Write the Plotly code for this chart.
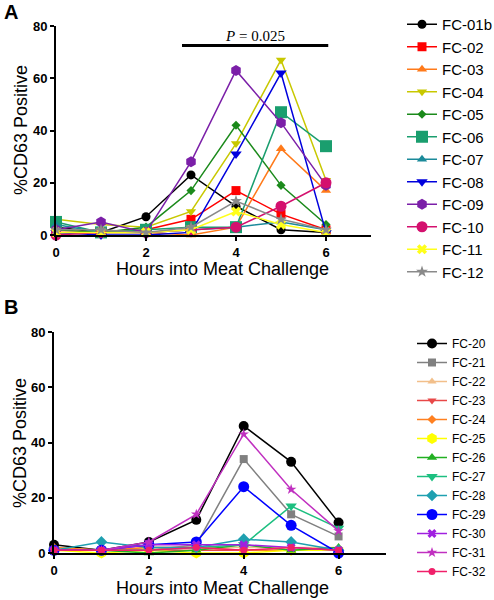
import plotly.graph_objects as go

hours = [0, 1, 2, 3, 4, 5, 6]

# Panel A
names_a = ["FC-01b", "FC-02", "FC-03", "FC-04", "FC-05", "FC-06",
           "FC-07", "FC-08", "FC-09", "FC-10", "FC-11", "FC-12"]
vals_a = [
    [3, 1, 7, 23, 11, 2, 1],
    [1, 1, 2, 6, 17, 8, 2],
    [1, 1, 1, 0, 3, 33, 17],
    [6, 4, 3, 9, 35, 67, 21],
    [2, 1, 3, 17, 42, 19, 4],
    [5, 1, 2, 3, 3, 47, 34],
    [4, 1, 1, 2, 3, 5, 2],
    [1, 0, 0, 1, 31, 62, 1],
    [2, 5, 1, 28, 63, 43, 19],
    [0, 1, 1, 2, 3, 11, 20],
    [1, 1, 1, 2, 9, 4, 1],
    [2, 2, 1, 3, 13, 6, 2],
]
colors_a = ["#000000", "#ff0000", "#ff7a1a", "#c8c800", "#1b8a1b", "#1a9e6e",
            "#1b8a9a", "#0000dd", "#7b1fa8", "#d4106e", "#ffff1a", "#8a8a8a"]
symbols_a = ["circle", "square", "triangle-up", "triangle-down", "diamond", "square",
             "triangle-up", "triangle-down", "hexagon", "circle", "x", "star"]
sizes_a = [9, 9, 9, 9, 7, 12, 9, 10, 11, 11, 9, 9]

# Panel B
names_b = ["FC-20", "FC-21", "FC-22", "FC-23", "FC-24", "FC-25", "FC-26",
           "FC-27", "FC-28", "FC-29", "FC-30", "FC-31", "FC-32"]
vals_b = [
    [3, 1, 4, 12, 46, 33, 11],
    [1, 1, 1, 3, 34, 14, 6],
    [2, 1, 2, 2, 2, 2, 2],
    [1, 1, 1, 1, 1, 1, 1],
    [2, 1, 2, 2, 1, 1, 1],
    [1, 0, 1, 0, 0, 1, 1],
    [1, 1, 0, 1, 3, 1, 2],
    [1, 1, 1, 2, 3, 17, 9],
    [1, 4, 2, 2, 5, 4, 1],
    [1, 1, 3, 4, 24, 10, 0],
    [1, 1, 3, 3, 3, 2, 1],
    [1, 1, 4, 14, 43, 23, 8],
    [1, 1, 1, 2, 1, 2, 1],
]
colors_b = ["#000000", "#808080", "#f2bf8a", "#e84848", "#ff8020", "#ffff00", "#22b022",
            "#1dbf80", "#1fa0b0", "#0000ff", "#a020e0", "#c030c0", "#f0206a"]
symbols_b = ["circle", "square", "triangle-up", "triangle-down", "diamond", "hexagon",
             "triangle-up", "triangle-down", "diamond", "circle", "x", "star", "circle"]
sizes_b = [10, 8, 8, 8, 7, 11, 9, 10, 9, 11, 8, 8, 7]

tick_x = [0, 2, 4, 6]
tick_y = [0, 20, 40, 60, 80]
p_text = "<i>P</i> = 0.025"
p_bar = [2.8, 6.05]
p_bar_y = 72.5

fig = go.Figure()
for n, v, c, s, z in zip(names_a, vals_a, colors_a, symbols_a, sizes_a):
    fig.add_trace(go.Scatter(x=hours, y=v, name=n, mode="lines+markers",
                             line=dict(color=c, width=1.5),
                             marker=dict(color=c, symbol=s, size=z, line=dict(width=0)),
                             xaxis="x", yaxis="y", legend="legend", cliponaxis=False))
for n, v, c, s, z in zip(names_b, vals_b, colors_b, symbols_b, sizes_b):
    fig.add_trace(go.Scatter(x=hours, y=v, name=n, mode="lines+markers",
                             line=dict(color=c, width=1.5),
                             marker=dict(color=c, symbol=s, size=z, line=dict(width=0)),
                             xaxis="x2", yaxis="y2", legend="legend2", cliponaxis=False))

# significance bar
fig.add_trace(go.Scatter(x=p_bar, y=[p_bar_y, p_bar_y], mode="lines",
                         line=dict(color="black", width=3), showlegend=False,
                         xaxis="x", yaxis="y", cliponaxis=False))

axis_common = dict(showline=True, linecolor="black", linewidth=2, ticks="outside",
                   tickcolor="black", tickwidth=2, ticklen=4, showgrid=False,
                   zeroline=False,
                   tickfont=dict(family="Liberation Sans", size=13, color="black", weight="bold"))

fig.update_layout(
    width=494, height=600,
    margin=dict(l=0, r=0, t=0, b=0, autoexpand=False),
    paper_bgcolor="white", plot_bgcolor="white",
    font=dict(family="Liberation Sans", color="black"),
    xaxis=dict(domain=[56/494, 371/494], range=[0, 7], tickvals=tick_x,
               anchor="y", **axis_common),
    yaxis=dict(domain=[1-235/600, 1-26/600], range=[0, 80], tickvals=tick_y,
               anchor="x", **axis_common),
    xaxis2=dict(domain=[54/494, 386/494], range=[0, 7], tickvals=tick_x,
                anchor="y2", **axis_common),
    yaxis2=dict(domain=[1-553/600, 1-332/600], range=[0, 80], tickvals=tick_y,
                anchor="x2", **axis_common),
    legend=dict(x=402/494, y=1-8/600, xanchor="left", yanchor="top",
                font=dict(family="Liberation Sans", size=15, color="black"),
                bgcolor="rgba(0,0,0,0)", itemsizing="trace"),
    legend2=dict(x=412/494, y=1-329/600, xanchor="left", yanchor="top",
                 font=dict(family="Liberation Sans", size=12, color="black"),
                 bgcolor="rgba(0,0,0,0)", itemsizing="trace"),
    showlegend=True,
)

ann = [
    dict(text="<b>A</b>", x=2/494, y=1-12/600, xref="paper", yref="paper",
         xanchor="left", yanchor="middle", showarrow=False, font=dict(size=20)),
    dict(text="<b>B</b>", x=2/494, y=1-307/600, xref="paper", yref="paper",
         xanchor="left", yanchor="middle", showarrow=False, font=dict(size=20)),
    dict(text="%CD63 Positive", x=21/494, y=1-130/600, xref="paper", yref="paper",
         xanchor="center", yanchor="middle",
         textangle=-90, showarrow=False, font=dict(size=18)),
    dict(text="%CD63 Positive", x=20/494, y=1-443/600, xref="paper", yref="paper",
         xanchor="center", yanchor="middle",
         textangle=-90, showarrow=False, font=dict(size=18)),
    dict(text="Hours into Meat Challenge", x=222/494, y=1-269/600, xref="paper", yref="paper",
         xanchor="center", yanchor="middle", showarrow=False, font=dict(size=18)),
    dict(text="Hours into Meat Challenge", x=222/494, y=1-588/600, xref="paper", yref="paper",
         xanchor="center", yanchor="middle", showarrow=False, font=dict(size=18)),
    dict(text=p_text, x=(p_bar[0]+p_bar[1])/2, y=p_bar_y, xref="x", yref="y",
         yanchor="bottom", showarrow=False, yshift=0,
         font=dict(family="Liberation Serif", size=15)),
]
fig.update_layout(annotations=ann)

fig.write_html("out.html", config={"displayModeBar": False},
               post_script="document.body.style.margin='0';document.body.style.overflow='hidden';")
